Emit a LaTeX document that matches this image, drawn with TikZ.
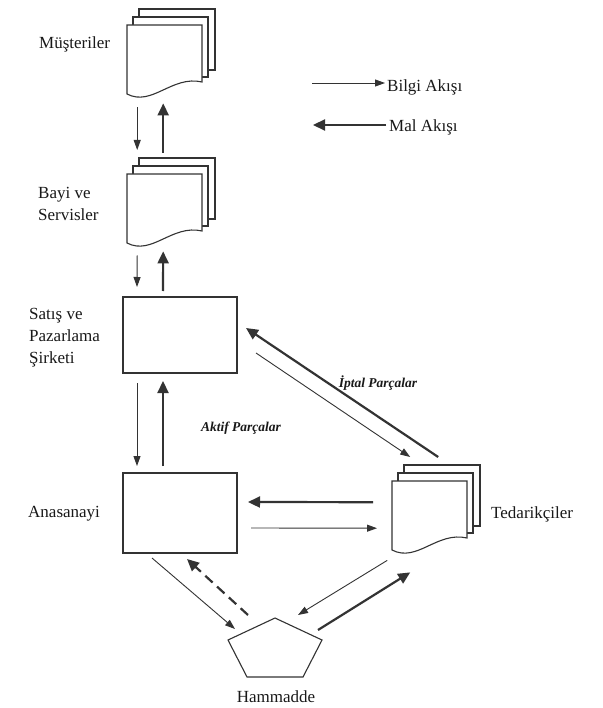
\documentclass[tikz,border=0pt]{standalone}
\usepackage{fontspec}
\setmainfont{Liberation Serif}
\usetikzlibrary{arrows.meta,calc}
\definecolor{ink}{gray}{0.2}
\definecolor{txt}{gray}{0.1}
\tikzset{
  lbl/.style={font=\fontsize{17}{22}\selectfont, text=txt, inner sep=1pt, align=left},
  ilbl/.style={font=\fontsize{13.5}{15}\selectfont\bfseries\itshape, text=txt, inner sep=1pt},
  boxnode/.style={draw=ink, line width=2pt, minimum width=114pt, inner sep=0pt},
  thinarrow/.style={draw=ink, line width=0.9pt, -{Triangle[length=10pt,width=7pt]}},
  thickarrow/.style={draw=ink, line width=2.2pt, -{Triangle[length=12pt,width=11pt]}},
  dasharrow/.style={thickarrow, dash pattern=on 10pt off 6pt},
  docline/.style={draw=ink, line width=1.1pt, fill=white, line join=miter},
  docstack/.pic={
    \path[docline] (12,-16) rectangle (88,45);
    \path[docline] (6,-8) rectangle (81,52);
    \path[docline] (0,0) -- (75,0) -- (75,57) .. controls (45,50) and (25,82) .. (0,69) -- cycle;
    \node[inner sep=0pt, minimum width=75pt, minimum height=69pt, anchor=north west] (-body) at (0,0) {};
  }
}
\begin{document}
\begin{tikzpicture}[x=1pt,y=-1pt]
\useasboundingbox (0,0) rectangle (602,708);
\fill[white] (0,0) rectangle (602,708);

% document stacks
\pic (must) at (127,25) {docstack};
\pic (bayi) at (127,174) {docstack};
\pic (ted) at (392,481) {docstack};

% boxes
\node[boxnode, minimum height=76pt] (satis) at (180,335) {};
\node[boxnode, minimum height=80pt] (ana) at (180,513) {};

% raw material pentagon
\path[docline] (275,618) -- (322,640) -- (303,677) -- (247,677) -- (228,640) -- cycle;
\node[inner sep=0pt, minimum width=94pt, minimum height=59pt] (ham) at (275,647.5) {};

% labels
\node[lbl, anchor=west] (lmus) at (38,44) {Müşteriler};
\node[lbl, anchor=west] (lbayi) at (37,204) {Bayi ve\\Servisler};
\node[lbl, anchor=west] (lsat) at (28,338) {Satış ve\\Pazarlama\\Şirketi};
\node[lbl, anchor=west] (lana) at (27,514) {Anasanayi};
\node[lbl, anchor=west] (lted) at (490,514) {Tedarikçiler};
\node[lbl] (lham) at (276,697) {Hammadde};
\node[ilbl] (lakt) at (241,428) {Aktif Parçalar};
\node[ilbl] (lipt) at (378,383) {İptal Parçalar};

% legend
\node[lbl, anchor=west] (bilgi) at (386,87) {Bilgi Akışı};
\node[lbl, anchor=west] (mal) at (388,127) {Mal Akışı};
\coordinate (bilgi0) at (312,83);
\coordinate (mal0) at (313,125);
\draw[thinarrow] (bilgi0) -- ([shift={(-1,-4)}]bilgi.west);
\draw[thickarrow] ([shift={(-2,-2)}]mal.west) -- (mal0);

% vertical chain
\draw[thinarrow] ([shift={(-27.5,13)}]must-body.south) -- ([shift={(-27.5,-24)}]bayi-body.north);
\draw[thickarrow] ([shift={(-1.5,-21)}]bayi-body.north) -- ([shift={(-1.5,9)}]must-body.south);
\draw[thinarrow] ([shift={(-27.5,12)}]bayi-body.south) -- ([shift={(-43,-9)}]satis.north);
\draw[thickarrow] ([shift={(-17,-5)}]satis.north) -- ([shift={(-1.5,8)}]bayi-body.south);
\draw[thinarrow] ([shift={(-43,9)}]satis.south) -- ([shift={(-43,-6)}]ana.north);
\draw[thickarrow] ([shift={(-17,-6)}]ana.north) -- ([shift={(-17,7)}]satis.south);

% Anasanayi <-> Tedarikciler
\draw[thickarrow] ([shift={(-19,-13.5)}]ted-body.west) -- ([shift={(10,-11)}]ana.east);
\draw[thinarrow] ([shift={(13,15)}]ana.east) -- ([shift={(-15,12.5)}]ted-body.west);

% Iptal parcalar
\draw[thickarrow] ([shift={(8.5,-24)}]ted-body.north) -- ([shift={(8,-7)}]satis.east);
\draw[thinarrow] ([shift={(18,18)}]satis.east) -- ([shift={(-19.5,-24)}]ted-body.north);

% Hammadde
\draw[thinarrow] ([shift={(-28,4)}]ana.south) -- ([shift={(-40,-18.5)}]ham.center);
\draw[dasharrow] ([shift={(-27,-32.5)}]ham.center) -- ([shift={(7,5)}]ana.south);
\draw[thinarrow] ([shift={(-42.5,10)}]ted-body.south) -- ([shift={(23,-32.5)}]ham.center);
\draw[thickarrow] ([shift={(43,-17.5)}]ham.center) -- ([shift={(-19.5,22)}]ted-body.south);
\end{tikzpicture}
\end{document}
